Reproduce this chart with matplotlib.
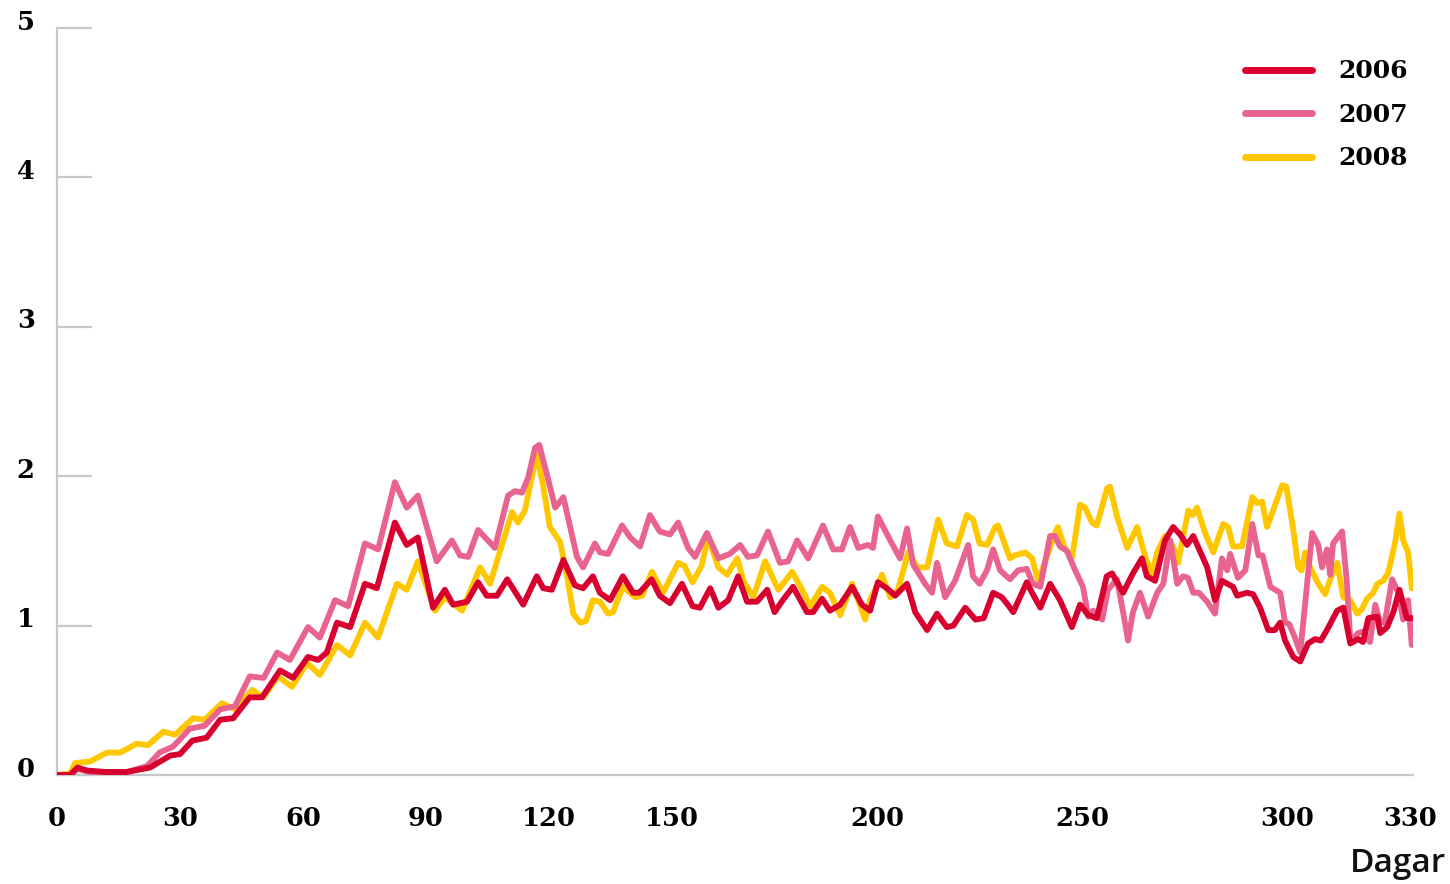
import numpy as np
import matplotlib
matplotlib.use('Agg')
import matplotlib.pyplot as plt
import matplotlib.transforms as mtrans

########## data (day, value)

years = ['2006', '2007', '2008']
colors = ['#d7002f', '#e9638f', '#ffc700']

days_2006 = [0, 3.2, 5, 7.3, 12, 17, 22.7, 27.6, 30, 33, 36.5, 39.8, 43, 47, 50, 54.4, 57.6,
             61.2, 63.7, 65.8, 68.3, 71.5, 75.1, 78, 82.4, 85.3, 88, 91.7, 94.6, 96.6, 100,
             102.7, 104.8, 107.3, 109.8, 113.7, 117, 118.6, 120.7, 123.5, 126.3, 128.3, 130.7,
             132.4, 134.9, 138, 140.5, 142, 145, 147, 149.5, 152.4, 155, 156.8, 159.3, 161.3,
             163.7, 166.1, 168.3, 170.7, 173.2, 175, 177, 179.5, 182.9, 184.4, 186.6, 188.5,
             191, 193.9, 196.3, 198.3, 200.2, 202.4, 204.4, 207.3, 209.3, 212.2, 214.6, 217,
             218.6, 221.5, 224, 226, 228.3, 230.4, 231.6, 233.2, 236.5, 237.8, 239.8, 242.2,
             244.6, 247.5, 249.5, 251.5, 253.6, 256, 257.3, 260, 262.4, 264.6, 265.8, 267.8,
             270.2, 272.2, 273.9, 275.6, 277.1, 280.5, 282.4, 284.1, 286.8, 287.8, 290.2,
             291.7, 293.4, 295.4, 297, 298.3, 299.5, 301.5, 303.2, 305.1, 306.8, 308.2, 309.7,
             312.2, 313.7, 315.4, 317.3, 318.5, 319.8, 322, 322.7, 324.4, 325.9, 327.4, 329.2,
             330.8]
vals_2006 = [0, 0, 0.05, 0.03, 0.02, 0.02, 0.05, 0.13, 0.14, 0.23, 0.25, 0.37, 0.38, 0.52, 0.52,
             0.70, 0.65, 0.79, 0.77, 0.82, 1.02, 0.99, 1.28, 1.25, 1.69, 1.54, 1.59, 1.12, 1.24,
             1.14, 1.16, 1.29, 1.20, 1.20, 1.31, 1.14, 1.33, 1.25, 1.24, 1.44, 1.27, 1.25, 1.33,
             1.22, 1.17, 1.33, 1.22, 1.22, 1.31, 1.20, 1.15, 1.28, 1.13, 1.12, 1.25, 1.12, 1.17,
             1.33, 1.16, 1.16, 1.24, 1.09, 1.17, 1.26, 1.09, 1.09, 1.18, 1.10, 1.14, 1.26, 1.14,
             1.10, 1.29, 1.25, 1.20, 1.28, 1.09, 0.97, 1.08, 0.99, 1.00, 1.12, 1.04, 1.05, 1.22,
             1.19, 1.15, 1.09, 1.29, 1.22, 1.12, 1.28, 1.17, 0.99, 1.14, 1.07, 1.05, 1.33, 1.35,
             1.22, 1.35, 1.45, 1.33, 1.30, 1.57, 1.66, 1.61, 1.54, 1.60, 1.39, 1.17, 1.30, 1.26,
             1.20, 1.22, 1.21, 1.12, 0.97, 0.97, 1.02, 0.90, 0.79, 0.76, 0.88, 0.91, 0.90, 0.97,
             1.10, 1.12, 0.88, 0.91, 0.89, 1.05, 1.06, 0.95, 0.99, 1.09, 1.24, 1.05, 1.05]

days_2007 = [0, 3.2, 5, 8, 17, 22, 25, 28.3, 32.4, 36, 39.8, 43.4, 47, 50.4, 53.7, 56.8, 61.2,
             64.1, 67.8, 71, 75.1, 78.3, 82.4, 85.3, 88, 92.6, 96.3, 98.3, 100.3, 102.7, 106.8,
             110, 111.7, 113.4, 114.9, 116.6, 117.6, 119.5, 121.5, 123.5, 126.8, 128.3, 131.2,
             132.4, 134.4, 137.8, 139.8, 142.2, 144.6, 147, 149.5, 151.5, 153.9, 155.6, 158.5,
             161.3, 164.1, 166.6, 168.5, 170.7, 173.4, 176.3, 178.3, 180.5, 183.2, 186.8, 189.3,
             191.4, 193.4, 195.4, 197.8, 199, 200.2, 203.2, 205.6, 207.3, 208.8, 211.7, 213.4,
             214.6, 216.6, 219, 222.2, 223.4, 225, 226.8, 228.3, 230, 232.4, 234.4, 236.5, 238,
             239.8, 242.2, 243.4, 244.6, 246.3, 248.3, 250.2, 251.5, 252.7, 254.9, 256.3, 258.5,
             260, 261.2, 262.4, 264.1, 266.1, 268.3, 269.8, 271.5, 273.2, 274.6, 275.8, 277.1,
             278.5, 280.5, 282.4, 284.1, 285.4, 286.1, 288, 289.8, 291.5, 293, 294, 295.9,
             298.3, 299.5, 300.5, 301.9, 303.2, 304.4, 306.1, 307.6, 308.5, 309.7, 310.5, 311.2,
             313.4, 314.6, 315.4, 317.3, 318.5, 320.2, 321.5, 322.7, 323.8, 325.6, 327.1, 328.3,
             329.5, 330.4]
vals_2007 = [0, 0, 0.04, 0.02, 0.02, 0.06, 0.15, 0.19, 0.31, 0.33, 0.44, 0.46, 0.66, 0.65, 0.82,
             0.77, 0.99, 0.92, 1.17, 1.13, 1.55, 1.51, 1.96, 1.79, 1.87, 1.43, 1.57, 1.47, 1.46,
             1.64, 1.52, 1.87, 1.90, 1.89, 1.99, 2.19, 2.21, 2.01, 1.79, 1.86, 1.46, 1.39, 1.55,
             1.49, 1.48, 1.67, 1.59, 1.53, 1.74, 1.63, 1.61, 1.69, 1.52, 1.46, 1.62, 1.45, 1.48,
             1.54, 1.46, 1.47, 1.63, 1.42, 1.43, 1.57, 1.45, 1.67, 1.51, 1.51, 1.66, 1.52, 1.54,
             1.52, 1.73, 1.57, 1.45, 1.65, 1.41, 1.28, 1.22, 1.42, 1.19, 1.30, 1.54, 1.33, 1.28,
             1.37, 1.51, 1.37, 1.31, 1.37, 1.38, 1.28, 1.26, 1.60, 1.60, 1.53, 1.50, 1.37, 1.26,
             1.06, 1.10, 1.04, 1.24, 1.31, 1.09, 0.90, 1.09, 1.22, 1.06, 1.22, 1.28, 1.57, 1.28,
             1.33, 1.32, 1.22, 1.22, 1.16, 1.08, 1.45, 1.37, 1.48, 1.32, 1.37, 1.68, 1.47, 1.47,
             1.26, 1.22, 1.02, 1.01, 0.92, 0.82, 1.15, 1.62, 1.54, 1.39, 1.51, 1.34, 1.55, 1.63,
             1.28, 0.89, 0.95, 0.96, 0.89, 1.14, 1.02, 1.02, 1.31, 1.22, 1.04, 1.17, 0.87]

days_2008 = [0, 3.2, 4.4, 8, 12.2, 15.4, 19.5, 22.2, 25.9, 28.8, 33.2, 36, 40.2, 43.4, 47.6,
             50.3, 53.9, 57.3, 61, 64.1, 68.3, 71.5, 75.1, 78.3, 82.9, 85.3, 88, 92.2, 94.6,
             98.8, 103.2, 105.6, 111, 112.4, 114.1, 117, 118.6, 120.2, 122.7, 124.6, 125.9,
             127.6, 129, 130.7, 132.4, 134.4, 135.6, 138, 141, 142.7, 145.1, 147.8, 151.5, 153,
             155, 157.2, 158.8, 161.3, 163.4, 165.9, 167.4, 169.8, 172.7, 175.9, 179.3, 181.7,
             183.7, 186.6, 188.5, 191, 193.9, 195.4, 197.1, 198.3, 201.2, 203.2, 205.1, 207.6,
             209.8, 212.2, 214.9, 217, 219.5, 221.9, 223.4, 225, 226.8, 228.8, 229.5, 232.4,
             233.6, 236.1, 237.8, 239.3, 241.5, 243.4, 244.1, 245.9, 247.6, 249.5, 250.7, 252.4,
             253.6, 256.1, 256.8, 258.5, 261, 263.4, 265.4, 267, 268.3, 270.2, 272.2, 273.4,
             275.9, 277, 278, 280, 282, 284.4, 285.6, 286.8, 289, 291.5, 292.7, 293.9, 295.1,
             297.1, 298.8, 299.8, 301.5, 302.7, 303.5, 304.4, 305.6, 307.6, 309.3, 310.5, 312.2,
             313.7, 315.4, 317.1, 318.2, 319.5, 321, 322, 323.4, 324.6, 326.3, 327.4, 328.3,
             329.5, 330.4]
vals_2008 = [0, 0.01, 0.08, 0.09, 0.15, 0.15, 0.21, 0.20, 0.29, 0.27, 0.38, 0.37, 0.48, 0.44,
             0.57, 0.52, 0.66, 0.59, 0.75, 0.67, 0.87, 0.80, 1.02, 0.92, 1.28, 1.24, 1.43, 1.10,
             1.19, 1.10, 1.39, 1.28, 1.76, 1.69, 1.77, 2.15, 1.93, 1.66, 1.56, 1.30, 1.08, 1.02,
             1.03, 1.17, 1.16, 1.08, 1.09, 1.26, 1.19, 1.20, 1.36, 1.22, 1.42, 1.40, 1.29, 1.40,
             1.59, 1.39, 1.34, 1.45, 1.30, 1.19, 1.43, 1.24, 1.36, 1.24, 1.13, 1.26, 1.22, 1.07,
             1.28, 1.17, 1.04, 1.17, 1.34, 1.19, 1.24, 1.49, 1.39, 1.39, 1.71, 1.55, 1.53, 1.74,
             1.71, 1.55, 1.54, 1.66, 1.67, 1.45, 1.47, 1.49, 1.45, 1.30, 1.47, 1.62, 1.66, 1.51,
             1.46, 1.81, 1.79, 1.69, 1.67, 1.92, 1.93, 1.73, 1.52, 1.66, 1.46, 1.35, 1.49, 1.60,
             1.53, 1.42, 1.77, 1.74, 1.79, 1.62, 1.49, 1.68, 1.66, 1.53, 1.53, 1.86, 1.82, 1.83,
             1.66, 1.81, 1.94, 1.93, 1.64, 1.39, 1.37, 1.49, 1.39, 1.28, 1.21, 1.31, 1.42, 1.19,
             1.17, 1.08, 1.11, 1.18, 1.22, 1.28, 1.30, 1.35, 1.55, 1.75, 1.57, 1.49, 1.25]

x_ticks = [0, 30, 60, 90, 120, 150, 200, 250, 300, 330]
y_ticks = [0, 1, 2, 3, 4, 5]

########## plot

grey = '#c8c8c8'
fig = plt.figure(figsize=(14.5, 8.84), dpi=100)
ax = fig.add_axes([0.0393, 0.1233, 0.9352, 0.845])

series = [(days_2006, vals_2006), (days_2007, vals_2007), (days_2008, vals_2008)]
# yellow at the bottom, red on top
for i in [2, 1, 0]:
    d, v = series[i]
    ax.plot(d, v, color=colors[i], lw=4.2, solid_joinstyle='round',
            solid_capstyle='round', label=years[i], zorder=3 + (2 - i))

ax.set_xlim(0, 330.7)
ax.set_ylim(0, 5)
ax.set_xticks(x_ticks)
ax.set_yticks(y_ticks)

for s in ['top', 'right']:
    ax.spines[s].set_visible(False)
for s in ['left', 'bottom']:
    ax.spines[s].set_color(grey)
    ax.spines[s].set_linewidth(1.6)

tick_font = dict(family='DejaVu Serif', weight='bold', size=18.5)
ax.tick_params(axis='y', direction='in', length=25, width=1.6, color=grey, pad=16)
ax.tick_params(axis='x', length=0, pad=22)
ax.set_xticklabels([str(t) for t in x_ticks], fontdict=tick_font)
ax.set_yticklabels([str(t) for t in y_ticks], fontdict=tick_font)
up = mtrans.ScaledTranslation(0, 6 / 100, fig.dpi_scale_trans)
for lab in ax.get_yticklabels():
    lab.set_verticalalignment('center')
    lab.set_transform(lab.get_transform() + up)

fig.text(0.997, 0.004, 'Dagar', ha='right', va='bottom', fontsize=24, family='Open Sans',
         weight='semibold', color='#111111')

h, l = ax.get_legend_handles_labels()
order = [l.index(y) for y in years]
leg = ax.legend([h[k] for k in order], [l[k] for k in order], loc='upper right',
                bbox_to_anchor=(1.013, 0.988), frameon=False, handlelength=2.7,
                handletextpad=1.05, labelspacing=0.78,
                prop=dict(family='DejaVu Serif', weight='bold', size=18))
for line in leg.get_lines():
    line.set_linewidth(5)

fig.savefig('out.png', dpi=100)
